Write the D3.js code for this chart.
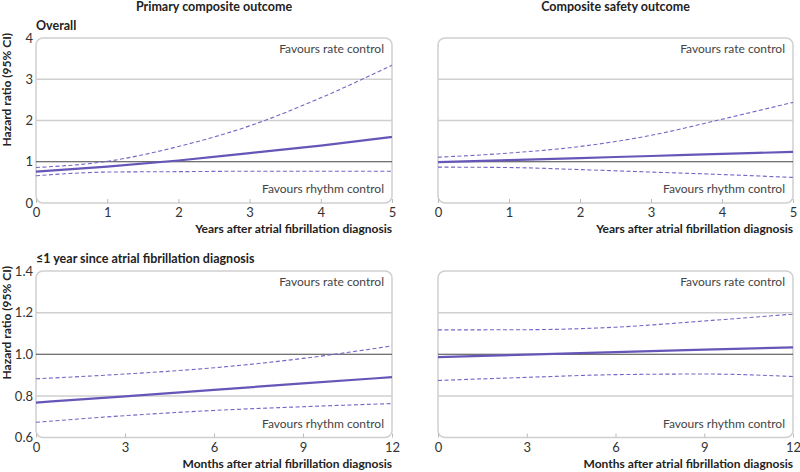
<!DOCTYPE html>
<html>
<head>
<meta charset="utf-8">
<script src="https://cdn.jsdelivr.net/npm/d3@7"></script>
<style>
  body { margin: 0; background: #fff; }
  svg { font-family: Lato, "Open Sans", sans-serif; }
</style>
</head>
<body>
<div id="chart"></div>
<script>
// values
var years = [0, 1, 2, 3, 4, 5];
var months = [0, 3, 6, 9, 12];

var primaryOverallHR = [0.76, 0.88, 1.03, 1.21, 1.39, 1.60];
var primaryOverallLo = [0.66, 0.75, 0.76, 0.77, 0.77, 0.77];
var primaryOverallHi = [0.86, 1.01, 1.37, 1.87, 2.55, 3.34];

var safetyOverallHR = [0.99, 1.04, 1.09, 1.14, 1.19, 1.24];
var safetyOverallLo = [0.87, 0.86, 0.81, 0.75, 0.69, 0.62];
var safetyOverallHi = [1.11, 1.21, 1.37, 1.64, 2.03, 2.44];

var primaryEarlyHR = [0.768, 0.798, 0.829, 0.860, 0.890];
var primaryEarlyLo = [0.673, 0.705, 0.730, 0.748, 0.763];
var primaryEarlyHi = [0.882, 0.905, 0.935, 0.980, 1.040];

var safetyEarlyHR = [0.986, 0.998, 1.010, 1.022, 1.033];
var safetyEarlyLo = [0.874, 0.889, 0.902, 0.905, 0.893];
var safetyEarlyHi = [1.117, 1.118, 1.130, 1.160, 1.193];

var columnTitles = ["Primary composite outcome", "Composite safety outcome"];
var rowTitles = ["Overall", "\u22641 year since atrial fibrillation diagnosis"];
var xTitles = ["Years after atrial fibrillation diagnosis", "Months after atrial fibrillation diagnosis"];
var yTicksOverall = [0, 1, 2, 3, 4];
var yTicksEarly = [0.6, 0.8, 1.0, 1.2, 1.4];

var purple = "#6656b8";

var svg = d3.select("#chart").append("svg")
    .attr("width", 800)
    .attr("height", 472);

var cols = [{x0: 36, x1: 392}, {x0: 438, x1: 793}];
var rows = [{y0: 38, y1: 203}, {y0: 271, y1: 437.5}];

var panels = [
  {r: 0, c: 0, xs: years, xdom: [0, 5], ydom: [0, 4], yt: yTicksOverall, yf: d3.format("d"), hr: primaryOverallHR, lo: primaryOverallLo, hi: primaryOverallHi},
  {r: 0, c: 1, xs: years, xdom: [0, 5], ydom: [0, 4], yt: yTicksOverall, yf: d3.format("d"), hr: safetyOverallHR, lo: safetyOverallLo, hi: safetyOverallHi},
  {r: 1, c: 0, xs: months, xdom: [0, 12], ydom: [0.6, 1.4], yt: yTicksEarly, yf: d3.format(".1f"), hr: primaryEarlyHR, lo: primaryEarlyLo, hi: primaryEarlyHi},
  {r: 1, c: 1, xs: months, xdom: [0, 12], ydom: [0.6, 1.4], yt: yTicksEarly, yf: d3.format(".1f"), hr: safetyEarlyHR, lo: safetyEarlyLo, hi: safetyEarlyHi}
];

// column titles
columnTitles.forEach(function(t, i) {
  svg.append("text")
      .attr("x", (cols[i].x0 + cols[i].x1) / 2)
      .attr("y", 11)
      .attr("text-anchor", "middle")
      .attr("font-size", 12.5)
      .attr("font-weight", "bold")
      .attr("fill", "#222")
      .text(t);
});

rowTitles.forEach(function(t, i) {
  svg.append("text")
      .attr("x", 36)
      .attr("y", rows[i].y0 - 8)
      .attr("font-size", 12.5)
      .attr("font-weight", "bold")
      .attr("fill", "#222")
      .text(t);

  // y axis title
  svg.append("text")
      .attr("transform", "translate(11," + (rows[i].y0 - 5) + ") rotate(-90)")
      .attr("text-anchor", "end")
      .attr("font-size", 12)
      .attr("font-weight", "bold")
      .attr("fill", "#222")
      .text("Hazard ratio (95% CI)");
});

panels.forEach(function(p) {
  var c = cols[p.c], r = rows[p.r];
  var w = c.x1 - c.x0, h = r.y1 - r.y0;

  var x = d3.scaleLinear().domain(p.xdom).range([0, w]);
  var y = d3.scaleLinear().domain(p.ydom).range([h, 0]);

  var g = svg.append("g")
      .attr("transform", "translate(" + c.x0 + "," + r.y0 + ")");

  // gridlines
  g.selectAll(".grid")
      .data(p.yt.slice(1, -1).filter(function(v) { return v !== 1; }))
    .enter().append("line")
      .attr("x1", 0).attr("x2", w)
      .attr("y1", function(d) { return y(d); })
      .attr("y2", function(d) { return y(d); })
      .attr("stroke", "#cfcfcf")
      .attr("stroke-width", 1.5);

  // panel frame
  g.append("rect")
      .attr("x", 0).attr("y", 0)
      .attr("width", w).attr("height", h)
      .attr("rx", 7).attr("ry", 7)
      .attr("fill", "none")
      .attr("stroke", "#cfcfcf")
      .attr("stroke-width", 1.5);

  // x ticks inside the frame
  var xAxis = d3.axisTop(x).tickValues(p.xs).tickSize(4).tickFormat("");
  var xa = g.append("g")
      .attr("transform", "translate(0," + h + ")")
      .call(xAxis);
  xa.select(".domain").remove();
  xa.selectAll("line").attr("stroke", "#bbb");

  // x tick labels
  var xl = g.append("g")
      .attr("transform", "translate(0," + (h + 4) + ")")
      .call(d3.axisBottom(x).tickValues(p.xs).tickFormat(d3.format("d")).tickSize(0).tickPadding(1));
  xl.select(".domain").remove();
  xl.selectAll("text")
      .attr("font-family", "Lato, sans-serif")
      .attr("font-size", 13)
      .attr("fill", "#333");

  // y tick labels only on left column
  if (p.c === 0) {
    var yl = g.append("g")
        .call(d3.axisLeft(y).tickValues(p.yt).tickFormat(p.yf).tickSize(0).tickPadding(3));
    yl.select(".domain").remove();
    yl.selectAll("text")
        .attr("font-family", "Lato, sans-serif")
        .attr("font-size", 13)
        .attr("fill", "#333");
  }

  // reference line at HR = 1
  g.append("line")
      .attr("x1", 0).attr("x2", w)
      .attr("y1", y(1)).attr("y2", y(1))
      .attr("stroke", "#444")
      .attr("stroke-width", 1.2);

  var line = d3.line()
      .x(function(d) { return x(d[0]); })
      .y(function(d) { return y(d[1]); })
      .curve(d3.curveMonotoneX);

  [p.lo, p.hi].forEach(function(s) {
    g.append("path")
        .datum(p.xs.map(function(v, i) { return [v, s[i]]; }))
        .attr("d", line)
        .attr("fill", "none")
        .attr("stroke", "#7466c6")
        .attr("stroke-width", 1.1)
        .attr("stroke-dasharray", "4,2.5");
  });

  g.append("path")
      .datum(p.xs.map(function(v, i) { return [v, p.hr[i]]; }))
      .attr("d", line)
      .attr("fill", "none")
      .attr("stroke", purple)
      .attr("stroke-width", 2.2);

  g.append("text")
      .attr("x", w - 8).attr("y", 15)
      .attr("text-anchor", "end")
      .attr("font-size", 12)
      .attr("fill", "#444")
      .text("Favours rate control");

  g.append("text")
      .attr("x", w - 8).attr("y", h - 10)
      .attr("text-anchor", "end")
      .attr("font-size", 12)
      .attr("fill", "#444")
      .text("Favours rhythm control");

  g.append("text")
      .attr("x", w).attr("y", h + 30)
      .attr("text-anchor", "end")
      .attr("font-size", 12)
      .attr("font-weight", "bold")
      .attr("fill", "#222")
      .text(xTitles[p.r]);
});
</script>
</body>
</html>
